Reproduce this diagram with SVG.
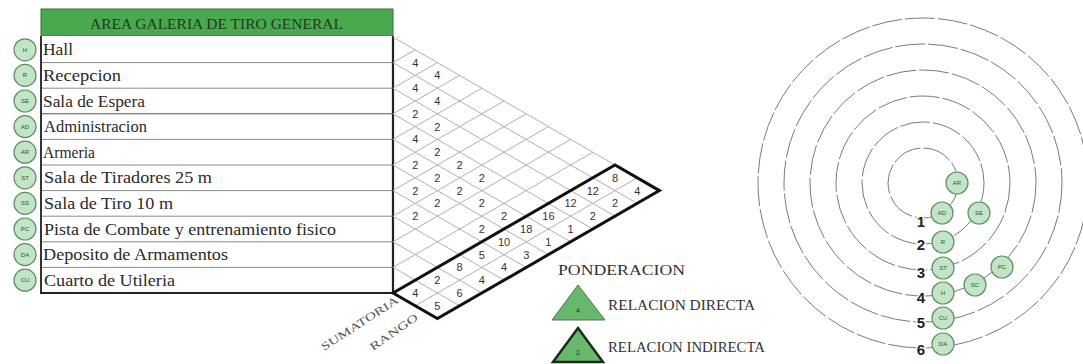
<svg xmlns="http://www.w3.org/2000/svg" width="1083" height="364" viewBox="0 0 1083 364">
<style>
.row{font-family:"Liberation Serif",serif;font-size:16.5px;fill:#2a2a2a}
.sep{stroke:#8a8a8a;stroke-width:1}
.grid{stroke:#b0b0b0;stroke-width:1;fill:none}
.num{font-family:"Liberation Sans",sans-serif;font-size:11px;fill:#333;text-anchor:middle}
.nd{fill:#c3e4c6;stroke:#5f8f64;stroke-width:1.2}
.ndt{font-family:"Liberation Sans",sans-serif;font-size:6px;fill:#2f5233;text-anchor:middle}
.ring{fill:none;stroke:#7a7a7a;stroke-width:1;stroke-dasharray:30 3}
.lvl{font-family:"Liberation Sans",sans-serif;font-size:15px;font-weight:bold;fill:#222;text-anchor:middle;stroke:#fff;stroke-width:3;paint-order:stroke}
.leg{font-family:"Liberation Serif",serif;font-size:14px;fill:#333}
.rot{font-family:"Liberation Serif",serif;font-size:11px;fill:#555}
</style>

<g id="table">
<rect x="41" y="9" width="352" height="27" fill="#4aa84f" stroke="#3a6e3d" stroke-width="1"/>
<text x="90" y="29" font-family="Liberation Serif, serif" font-size="14" fill="#1e3b1f" textLength="253" lengthAdjust="spacingAndGlyphs">AREA GALERIA DE TIRO GENERAL</text>
<rect x="41" y="36" width="352" height="257" fill="#fff" stroke="none"/>
<line class="sep" x1="41" y1="62.6" x2="393" y2="62.6"/>
<line class="sep" x1="41" y1="88.2" x2="393" y2="88.2"/>
<line x1="41" y1="113.8" x2="393" y2="113.8" stroke="#555" stroke-width="1"/>
<line class="sep" x1="41" y1="139.4" x2="393" y2="139.4"/>
<line class="sep" x1="41" y1="165" x2="393" y2="165"/>
<line class="sep" x1="41" y1="190.6" x2="393" y2="190.6"/>
<line class="sep" x1="41" y1="216.2" x2="393" y2="216.2"/>
<line class="sep" x1="41" y1="241.8" x2="393" y2="241.8"/>
<line class="sep" x1="41" y1="267.4" x2="393" y2="267.4"/>
<line x1="41" y1="36" x2="41" y2="294" stroke="#333" stroke-width="2"/>
<line x1="393" y1="36" x2="393" y2="294" stroke="#222" stroke-width="2.2"/>
<line x1="40" y1="293" x2="394" y2="293" stroke="#222" stroke-width="2.2"/>
<text class="row" x="43" y="55.3" textLength="30" lengthAdjust="spacingAndGlyphs">Hall</text>
<text class="row" x="43" y="80.9" textLength="78" lengthAdjust="spacingAndGlyphs">Recepcion</text>
<text class="row" x="43" y="106.5" textLength="102" lengthAdjust="spacingAndGlyphs">Sala de Espera</text>
<text class="row" x="44" y="132.1" textLength="103" lengthAdjust="spacingAndGlyphs">Administracion</text>
<text class="row" x="43" y="157.7" textLength="52" lengthAdjust="spacingAndGlyphs">Armeria</text>
<text class="row" x="44" y="183.3" textLength="168" lengthAdjust="spacingAndGlyphs">Sala de Tiradores 25 m</text>
<text class="row" x="44" y="208.9" textLength="129" lengthAdjust="spacingAndGlyphs">Sala de Tiro 10 m</text>
<text class="row" x="44" y="234.5" textLength="292" lengthAdjust="spacingAndGlyphs">Pista de Combate y entrenamiento fisico</text>
<text class="row" x="43" y="260.1" textLength="185" lengthAdjust="spacingAndGlyphs">Deposito de Armamentos</text>
<text class="row" x="44" y="285.7" textLength="131" lengthAdjust="spacingAndGlyphs">Cuarto de Utileria</text>
</g>

<g id="row-markers">
<g id="m-H"><circle class="nd" cx="25" cy="49.8" r="11"/><text class="ndt" x="25" y="51.8">H</text></g>
<g id="m-R"><circle class="nd" cx="25" cy="75.4" r="11"/><text class="ndt" x="25" y="77.4">R</text></g>
<g id="m-SE"><circle class="nd" cx="25" cy="101" r="11"/><text class="ndt" x="25" y="103">SE</text></g>
<g id="m-AD"><circle class="nd" cx="25" cy="126.6" r="11"/><text class="ndt" x="25" y="128.6">AD</text></g>
<g id="m-AR"><circle class="nd" cx="25" cy="152.2" r="11"/><text class="ndt" x="25" y="154.2">AR</text></g>
<g id="m-ST"><circle class="nd" cx="25" cy="177.8" r="11"/><text class="ndt" x="25" y="179.8">ST</text></g>
<g id="m-SS"><circle class="nd" cx="25" cy="203.4" r="11"/><text class="ndt" x="25" y="205.4">SS</text></g>
<g id="m-PC"><circle class="nd" cx="25" cy="229" r="11"/><text class="ndt" x="25" y="231">PC</text></g>
<g id="m-DA"><circle class="nd" cx="25" cy="254.6" r="11"/><text class="ndt" x="25" y="256.6">DA</text></g>
<g id="m-CU"><circle class="nd" cx="25" cy="280.2" r="11"/><text class="ndt" x="25" y="282.2">CU</text></g>
</g>

<g id="matrix">
<path class="grid" d="M393 37L659.4 190.6M393 62.6L637.2 203.4M393 88.2L615 216.2M393 113.8L592.8 229M393 139.4L570.6 241.8M393 165L548.4 254.6M393 190.6L526.2 267.4M393 216.2L504 280.2M393 241.8L481.8 293M393 267.4L459.6 305.8
M415.2 49.8L393 62.6M437.4 62.6L393 88.2M459.6 75.4L393 113.8M481.8 88.2L393 139.4M504 101L393 165M526.2 113.8L393 190.6M548.4 126.6L393 216.2M570.6 139.4L393 241.8M592.8 152.2L393 267.4M637.2 177.8L415.2 305.8"/>
<polygon points="393,293 437.4,318.6 659.4,190.6 615,165" fill="none" stroke="#111" stroke-width="3" stroke-linejoin="miter"/>
<g id="pairs">
<text class="num" x="415.2" y="66.6">4</text>
<text class="num" x="437.4" y="79.4">4</text>
<text class="num" x="415.2" y="92.2">4</text>
<text class="num" x="437.4" y="105">4</text>
<text class="num" x="415.2" y="117.8">2</text>
<text class="num" x="437.4" y="130.6">2</text>
<text class="num" x="415.2" y="143.4">4</text>
<text class="num" x="437.4" y="156.2">2</text>
<text class="num" x="415.2" y="169">2</text>
<text class="num" x="459.6" y="169">2</text>
<text class="num" x="437.4" y="181.8">2</text>
<text class="num" x="481.8" y="181.8">2</text>
<text class="num" x="415.2" y="194.6">2</text>
<text class="num" x="459.6" y="194.6">2</text>
<text class="num" x="437.4" y="207.4">2</text>
<text class="num" x="481.8" y="207.4">2</text>
<text class="num" x="415.2" y="220.2">2</text>
<text class="num" x="504" y="220.2">2</text>
<text class="num" x="481.8" y="233">2</text>
</g>
<g id="sumatoria">
<text class="num" x="615" y="181.8">8</text>
<text class="num" x="592.8" y="194.6">12</text>
<text class="num" x="570.6" y="207.4">12</text>
<text class="num" x="548.4" y="220.2">16</text>
<text class="num" x="526.2" y="233">18</text>
<text class="num" x="504" y="245.8">10</text>
<text class="num" x="481.8" y="258.6">5</text>
<text class="num" x="459.6" y="271.4">8</text>
<text class="num" x="437.4" y="284.2">2</text>
<text class="num" x="415.2" y="297">4</text>
</g>
<g id="rango">
<text class="num" x="637.2" y="194.6">4</text>
<text class="num" x="615" y="207.4">2</text>
<text class="num" x="592.8" y="220.2">2</text>
<text class="num" x="570.6" y="233">1</text>
<text class="num" x="548.4" y="245.8">1</text>
<text class="num" x="526.2" y="258.6">3</text>
<text class="num" x="504" y="271.4">4</text>
<text class="num" x="481.8" y="284.2">4</text>
<text class="num" x="459.6" y="297">6</text>
<text class="num" x="437.4" y="309.8">5</text>
</g>
<text class="rot" x="324" y="351" transform="rotate(-33 324 351)" textLength="90" lengthAdjust="spacingAndGlyphs">SUMATORIA</text>
<text class="rot" x="373" y="351" transform="rotate(-35 373 351)" textLength="56" lengthAdjust="spacingAndGlyphs">RANGO</text>
</g>

<g id="legend">
<text class="leg" x="558" y="275" textLength="127" lengthAdjust="spacingAndGlyphs">PONDERACION</text>
<g id="leg-direct">
<polygon points="578,285 552,320 605,320" fill="#67b86a" stroke="#5a6e5b" stroke-width="1"/>
<text x="578" y="313" font-family="Liberation Sans, sans-serif" font-size="7" fill="#234" text-anchor="middle">4</text>
<text class="leg" x="608" y="310" textLength="147" lengthAdjust="spacingAndGlyphs">RELACION DIRECTA</text>
</g>
<g id="leg-indirect">
<polygon points="578,328 553,362 603,362" fill="#67b86a" stroke="#1d2a1e" stroke-width="2.5"/>
<text x="578" y="355" font-family="Liberation Sans, sans-serif" font-size="7" fill="#234" text-anchor="middle">2</text>
<text class="leg" x="608" y="352" textLength="157" lengthAdjust="spacingAndGlyphs">RELACION INDIRECTA</text>
</g>
</g>

<g id="rings">
<circle class="ring" cx="923" cy="183" r="35"/>
<circle class="ring" cx="923" cy="183" r="61"/>
<circle class="ring" cx="923" cy="183" r="87"/>
<circle class="ring" cx="923" cy="183" r="113"/>
<circle class="ring" cx="923" cy="183" r="139"/>
<circle class="ring" cx="923" cy="183" r="165"/>
<text class="lvl" x="921" y="227">1</text>
<text class="lvl" x="921" y="250">2</text>
<text class="lvl" x="921" y="278">3</text>
<text class="lvl" x="921" y="303">4</text>
<text class="lvl" x="921" y="328">5</text>
<text class="lvl" x="921" y="355">6</text>
</g>

<g id="zoning-nodes">
<g id="n-AR"><circle class="nd" cx="957" cy="183" r="11"/><text class="ndt" x="957" y="185">AR</text></g>
<g id="n-AD"><circle class="nd" cx="942" cy="213" r="11"/><text class="ndt" x="942" y="215">AD</text></g>
<g id="n-SE"><circle class="nd" cx="979" cy="213" r="11"/><text class="ndt" x="979" y="215">SE</text></g>
<g id="n-R"><circle class="nd" cx="943" cy="242" r="11"/><text class="ndt" x="943" y="244">R</text></g>
<g id="n-ST"><circle class="nd" cx="943" cy="268" r="11"/><text class="ndt" x="943" y="270">ST</text></g>
<g id="n-PC"><circle class="nd" cx="1002" cy="267" r="11"/><text class="ndt" x="1002" y="269">PC</text></g>
<g id="n-SS"><circle class="nd" cx="975" cy="285" r="11"/><text class="ndt" x="975" y="287">SC</text></g>
<g id="n-H"><circle class="nd" cx="943" cy="293" r="11"/><text class="ndt" x="943" y="295">H</text></g>
<g id="n-CU"><circle class="nd" cx="943" cy="318" r="11"/><text class="ndt" x="943" y="320">CU</text></g>
<g id="n-DA"><circle class="nd" cx="943" cy="344" r="11"/><text class="ndt" x="943" y="346">DA</text></g>
</g>
</svg>
